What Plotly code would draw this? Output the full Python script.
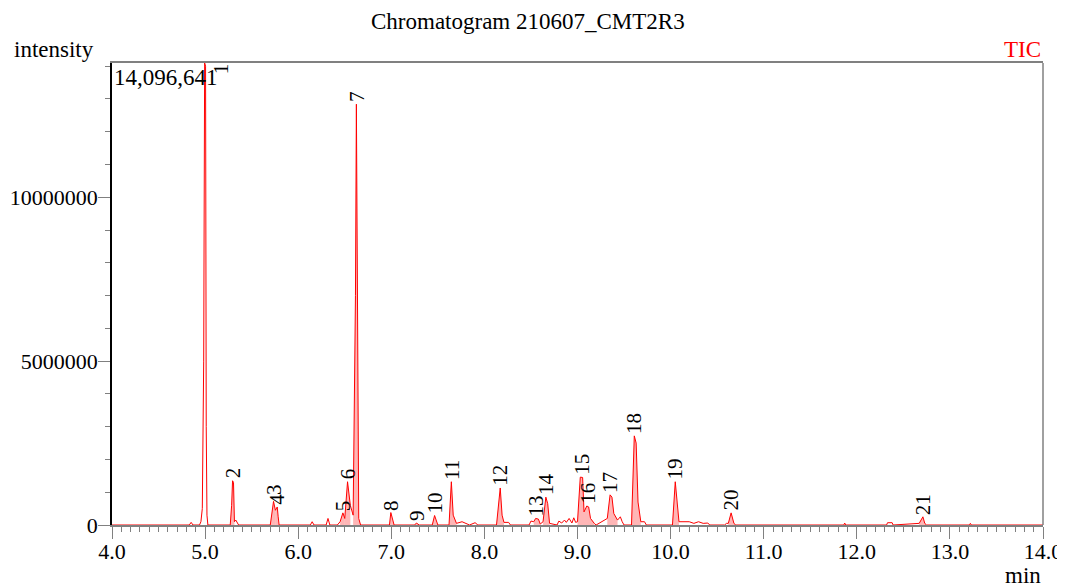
import plotly.graph_objects as go

# ---- data ----
time_min = [4.00, 4.83, 4.85, 4.87, 4.94, 4.955, 4.97, 4.985, 4.995, 5.005, 5.012, 5.02, 5.03,
            5.27, 5.285, 5.295, 5.305, 5.315, 5.33, 5.345, 5.36,
            5.70, 5.72, 5.735, 5.755, 5.775, 5.785, 5.795,
            6.13, 6.15, 6.17, 6.30, 6.32, 6.34, 6.42,
            6.45, 6.48, 6.50, 6.53, 6.56, 6.59, 6.615, 6.625, 6.635, 6.65, 6.67,
            6.98, 6.995, 7.01, 7.03, 7.25, 7.27, 7.30,
            7.44, 7.465, 7.49, 7.50, 7.62, 7.645, 7.665, 7.70, 7.76, 7.80, 7.84, 7.90, 7.93,
            8.13, 8.155, 8.17, 8.19, 8.21, 8.26, 8.28,
            8.48, 8.50, 8.53, 8.55, 8.58, 8.60, 8.63, 8.66, 8.68, 8.70,
            8.78, 8.80, 8.83, 8.86, 8.88, 8.91, 8.94, 8.96, 8.98,
            9.00, 9.03, 9.055, 9.07, 9.10, 9.12, 9.14, 9.18, 9.20,
            9.32, 9.35, 9.37, 9.39, 9.43, 9.46, 9.48, 9.50,
            9.58, 9.61, 9.63, 9.65, 9.68, 9.72, 9.74,
            10.02, 10.05, 10.07, 10.09, 10.20, 10.25, 10.30, 10.35, 10.40, 10.42,
            10.58, 10.60, 10.62, 10.65, 10.68, 10.70,
            11.86, 11.87, 11.88, 12.32, 12.33, 12.38, 12.39,
            12.67, 12.71, 12.73, 12.75, 13.21, 13.22, 13.23, 14.00]
intensity = [0, 0, 80000, 0, 0, 100000, 500000, 5000000, 14096641, 14000000, 3000000, 300000, 0,
             0, 600000, 1350000, 1300000, 100000, 150000, 50000, 0,
             0, 400000, 720000, 450000, 550000, 250000, 0,
             0, 100000, 0, 0, 200000, 0, 0,
             100000, 370000, 200000, 1320000, 600000, 300000, 7000000, 12840000, 7000000, 200000, 0,
             0, 380000, 200000, 0, 0, 60000, 0,
             0, 290000, 50000, 0, 0, 1320000, 300000, 50000, 100000, 50000, 0, 70000, 0,
             0, 600000, 1130000, 300000, 80000, 80000, 0,
             0, 120000, 100000, 200000, 180000, 30000, 100000, 850000, 650000, 50000,
             0, 120000, 60000, 150000, 80000, 200000, 60000, 220000, 80000,
             100000, 1460000, 1450000, 400000, 580000, 550000, 200000, 50000, 0,
             200000, 920000, 850000, 350000, 150000, 250000, 100000, 0,
             0, 2720000, 2500000, 700000, 100000, 100000, 0,
             0, 1320000, 600000, 100000, 100000, 50000, 100000, 50000, 60000, 0,
             0, 50000, 50000, 370000, 50000, 0,
             0, 60000, 0, 0, 70000, 70000, 0,
             50000, 250000, 50000, 0, 0, 50000, 0, 0]

peak_labels = ["2", "3", "4", "5", "6", "7", "8", "9", "10", "11", "12", "13", "14", "15",
               "16", "17", "18", "19", "20", "21"]
peak_times = [5.30, 5.74, 5.775, 6.48, 6.535, 6.625, 6.995, 7.27, 7.465, 7.645, 8.17, 8.55,
              8.66, 9.04, 9.115, 9.355, 9.615, 10.05, 10.65, 12.71]
peak_heights = [1350000, 870000, 550000, 370000, 1320000, 12840000, 380000, 60000, 290000,
                1320000, 1130000, 200000, 850000, 1460000, 580000, 920000, 2720000, 1320000,
                370000, 250000]
peak_starts = [5.27, 5.70, 5.755, 6.45, 6.50, 6.59, 6.98, 7.25, 7.44, 7.62, 8.13, 8.53,
               8.63, 9.00, 9.07, 9.32, 9.58, 10.02, 10.62, 12.67]
peak_ends = [5.315, 5.755, 5.795, 6.50, 6.56, 6.67, 7.03, 7.30, 7.50, 7.70, 8.21, 8.60,
             8.70, 9.07, 9.18, 9.43, 9.68, 10.09, 10.70, 12.75]
top_peak_label = "1"
top_peak_time = 4.995
max_intensity = 14096641

x_range = [4.0, 14.0]
x_ticks = [4, 5, 6, 7, 8, 9, 10, 11, 12, 13, 14]
y_ticks = [0, 5000000, 10000000]

FONT = "Liberation Serif, Times New Roman, DejaVu Serif, serif"
FS = 23
FS_TICK = 22
FS_PEAK = 21
fig = go.Figure()

# peak area fills
for s, e in zip(peak_starts, peak_ends):
    xs = [t for t in time_min if s <= t <= e]
    ys = [v for t, v in zip(time_min, intensity) if s <= t <= e]
    fig.add_trace(go.Scatter(x=xs, y=ys, mode="lines", line=dict(width=0),
                             fill="tozeroy", fillcolor="rgba(255,110,110,0.5)",
                             hoverinfo="skip", showlegend=False))

fig.add_trace(go.Scatter(x=time_min, y=intensity, mode="lines",
                         line=dict(color="#ff0000", width=1), showlegend=False))

annotations = []
for lab, t, h in zip(peak_labels, peak_times, peak_heights):
    annotations.append(dict(x=t, y=h, xref="x", yref="y", text=lab, showarrow=False,
                            textangle=-90, xanchor="center", yanchor="bottom", yshift=0,
                            font=dict(family=FONT, size=FS_PEAK, color="black")))
annotations.append(dict(x=top_peak_time, y=max_intensity, xref="x", yref="y", text=top_peak_label,
                        showarrow=False, textangle=-90, xanchor="center", yanchor="top",
                        xshift=16, yshift=2, font=dict(family=FONT, size=FS_PEAK, color="black")))
annotations.append(dict(x=0.0, y=1, xref="paper", yref="paper",
                        text=f"{max_intensity:,}", showarrow=False, xanchor="left",
                        yanchor="top", yshift=0, font=dict(family=FONT, size=FS, color="black")))
annotations.append(dict(x=0.447, y=1.089, xref="paper", yref="paper",
                        text="Chromatogram 210607_CMT2R3", showarrow=False,
                        xanchor="center", yanchor="middle",
                        font=dict(family=FONT, size=FS, color="black")))
annotations.append(dict(x=-0.1074, y=1.03, xref="paper", yref="paper", text="intensity",
                        showarrow=False, xanchor="left", yanchor="middle",
                        font=dict(family=FONT, size=FS, color="black")))
annotations.append(dict(x=1.0, y=1.03, xref="paper", yref="paper", text="TIC",
                        showarrow=False, xanchor="right", yanchor="middle",
                        font=dict(family=FONT, size=FS, color="#ff0000")))
annotations.append(dict(x=1.0, y=-0.1126, xref="paper", yref="paper", text="min",
                        showarrow=False, xanchor="right", yanchor="middle", yshift=2,
                        font=dict(family=FONT, size=FS, color="black")))

fig.update_layout(
    width=1057, height=579,
    margin=dict(l=104, r=22, t=55, b=62),
    paper_bgcolor="white", plot_bgcolor="white",
    font=dict(family=FONT, size=FS, color="black"),
    annotations=annotations,
    shapes=[dict(type="line", xref="paper", yref="paper", x0=1, x1=1, y0=0, y1=1,
                 line=dict(color="#808080", width=1.5))],
)
fig.update_xaxes(range=x_range, tickvals=x_ticks, tickformat=".1f", showgrid=False,
                 zeroline=False, showline=True, linecolor="#808080", linewidth=1.5,
                 mirror=True, ticks="outside", ticklen=12, tickcolor="#808080", tickwidth=1,
                 automargin=False, ticklabelstandoff=-6,
                 minor=dict(dtick=0.1, ticks="outside", ticklen=5, tickcolor="#808080",
                            showgrid=False),
                 tickfont=dict(family=FONT, size=FS_TICK, color="black"))
fig.update_yaxes(range=[0, max_intensity], tickvals=y_ticks, tickformat="d", showgrid=False,
                 zeroline=False, showline=True, linecolor="black", linewidth=1.5,
                 ticks="outside", ticklen=12, tickcolor="#808080", tickwidth=1,
                 automargin=False, ticklabelstandoff=-4,
                 minor=dict(dtick=1000000, ticks="outside", ticklen=5, tickcolor="#808080",
                            showgrid=False),
                 tickfont=dict(family=FONT, size=FS_TICK, color="black"))

fig.write_html("out.html")
